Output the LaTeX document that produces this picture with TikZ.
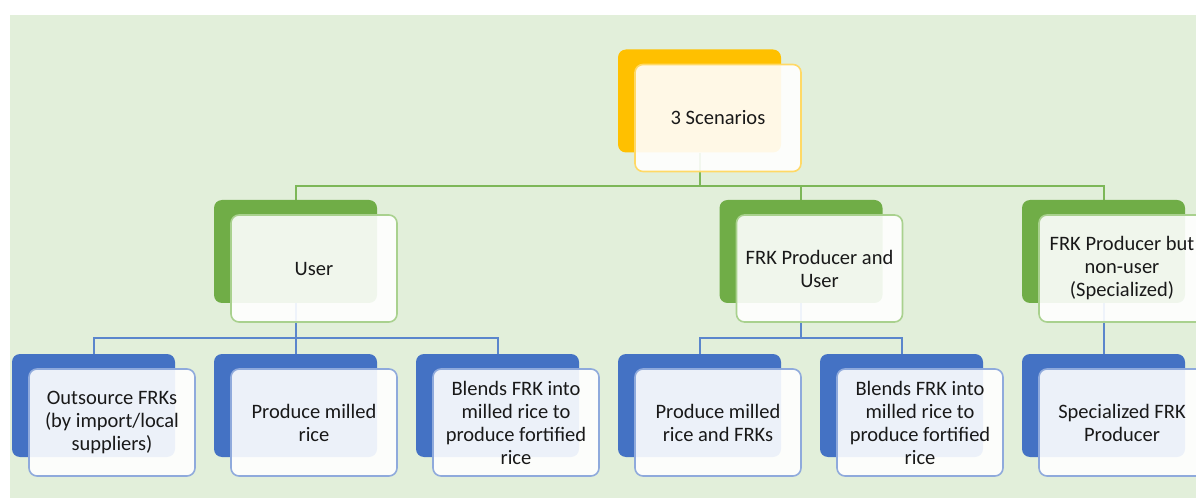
\documentclass[tikz,border=0pt]{standalone}
\usepackage{fontspec}
\setmainfont{Carlito}
\usepackage{tikz}
\usetikzlibrary{calc}
\definecolor{bggreen}{HTML}{E2EFDA}
\definecolor{topback}{HTML}{FFC000}
\definecolor{topline}{HTML}{FFD966}
\definecolor{midback}{HTML}{70AD47}
\definecolor{midline}{HTML}{A9D18E}
\definecolor{lowback}{HTML}{4472C4}
\definecolor{lowline}{HTML}{8FAADC}
\definecolor{treegreen}{HTML}{7DB758}
\definecolor{treeblue}{HTML}{5B86CC}
\pgfdeclarelayer{background}
\pgfsetlayers{background,main}
\tikzset{my back box/.style={
  rounded corners=8pt,
  minimum width=163pt, minimum height=103pt,
  inner sep=0pt
  }
}
\tikzset{my front box/.style={
  rounded corners=8pt, line width=1.6pt,
  fill=white, fill opacity=0.9, text opacity=1,
  minimum width=166pt, minimum height=107pt,
  align=center,
  font=\fontsize{20.5}{23}\selectfont, text=black!90
  }
}
\tikzset{my tree line/.style={line width=2pt}}

\begin{document}
\begin{tikzpicture}[x=1pt,y=1pt]
    \useasboundingbox (0,0) rectangle (1196,501);
    \clip (0,0) rectangle (1196,501);
    \begin{pgfonlayer}{background}
        \fill[bggreen] (10,3) rectangle (1200,486);
    \end{pgfonlayer}
    
    \node[my back box,fill=topback] (Rb) at (699.5,400) {};
    \node[my front box,draw=topline,xshift=18.5pt,yshift=-17pt] (Rf) at (699.5,400) {3 Scenarios};
    
    \foreach \x/\i [count=\n] in {295.5/User,801/{FRK Producer and\\User},1103.5/{FRK Producer but\\non-user\\(Specialized)}} {
        \node[my back box,fill=midback] (Mb\n) at (\x,249.5) {};
        \node[my front box,draw=midline,xshift=18.5pt,yshift=-17pt] (Mf\n) at (\x,249.5) {\i};
    }
    
    \foreach \i [count=\n] in {{Outsource FRKs\\(by import/local\\suppliers)},{Produce milled\\rice},{Blends FRK into\\milled rice to\\produce fortified\\rice},{Produce milled\\rice and FRKs},{Blends FRK into\\milled rice to\\produce fortified\\rice},{Specialized FRK\\Producer}} {
        \node[my back box,fill=lowback,xshift=\n*202pt] (Lb\n) at (-108.5,95.5) {};
        \node[my front box,draw=lowline,xshift=\n*202pt+18.5pt,yshift=-17pt] (Lf\n) at (-108.5,95.5) {\i};
    }
    
    \begin{pgfonlayer}{background}
        \foreach \n in {1,2,3}
            \draw[my tree line,treegreen] (Rb.south) -- ++(0,-33) -| (Mb\n.north);
        \foreach \n in {1,2,3}
            \draw[my tree line,treeblue] (Mb1.south) -- ++(0,-35) -| (Lb\n.north);
        \foreach \n in {4,5}
            \draw[my tree line,treeblue] (Mb2.south) -- ++(0,-35) -| (Lb\n.north);
        \draw[my tree line,treeblue] (Mb3.south) -- (Lb6.north);
    \end{pgfonlayer}
\end{tikzpicture}
\end{document}
